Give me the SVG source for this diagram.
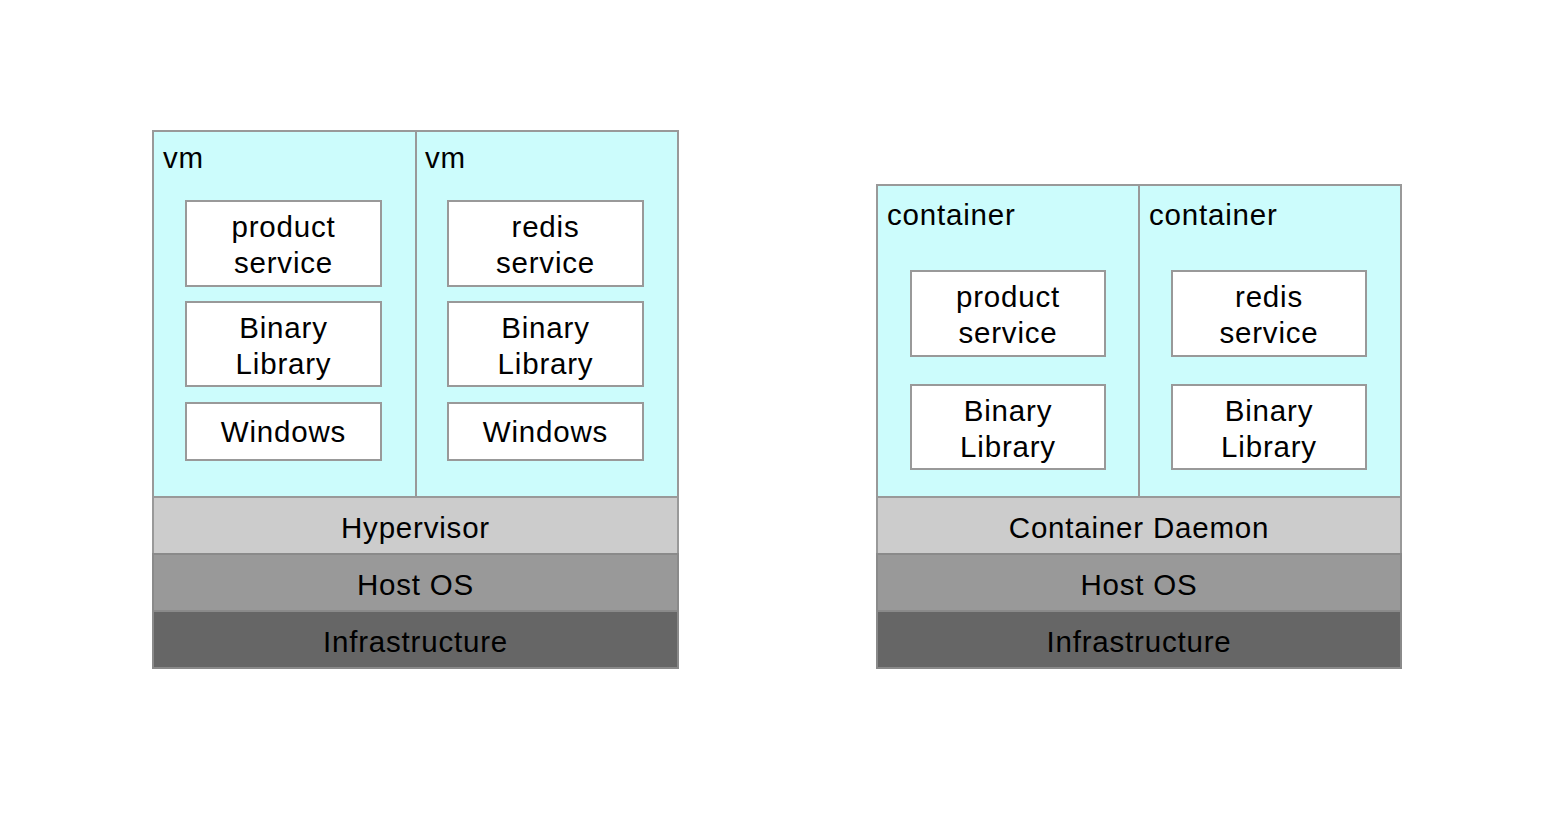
<svg xmlns="http://www.w3.org/2000/svg" width="1548" height="814" viewBox="0 0 1548 814">
<style>
.bg{fill:#ffffff}
.vm{fill:#ccfcfc;stroke:#999999;stroke-width:2}
.box{fill:#ffffff;stroke:#999999;stroke-width:2}
.l1{fill:#cccccc;stroke:#999999;stroke-width:2}
.l2{fill:#999999;stroke:#8a8a8a;stroke-width:2}
.l3{fill:#666666;stroke:#8a8a8a;stroke-width:2}
text{font-family:"Liberation Sans",Arial,Helvetica,sans-serif;font-size:29.5px;fill:#000000;letter-spacing:0.8px}
.c{text-anchor:middle}
</style>
<rect class="bg" x="0" y="0" width="1548" height="814"/>

<g id="vm-stack">
  <g id="vm1">
    <rect class="vm" x="153" y="131" width="263" height="366"/>
    <text x="163" y="168">vm</text>
  </g>
  <g id="vm2">
    <rect class="vm" x="416" y="131" width="262" height="366"/>
    <text x="425" y="168">vm</text>
  </g>
  <g id="vm1-product">
    <rect class="box" x="186" y="201" width="195" height="85"/>
    <text class="c" x="283.5" y="237">product</text>
    <text class="c" x="283.5" y="273">service</text>
  </g>
  <g id="vm1-binary">
    <rect class="box" x="186" y="302" width="195" height="84"/>
    <text class="c" x="283.5" y="338">Binary</text>
    <text class="c" x="283.5" y="374">Library</text>
  </g>
  <g id="vm1-windows">
    <rect class="box" x="186" y="403" width="195" height="57"/>
    <text class="c" x="283.5" y="442">Windows</text>
  </g>
  <g id="vm2-redis">
    <rect class="box" x="448" y="201" width="195" height="85"/>
    <text class="c" x="545.5" y="237">redis</text>
    <text class="c" x="545.5" y="273">service</text>
  </g>
  <g id="vm2-binary">
    <rect class="box" x="448" y="302" width="195" height="84"/>
    <text class="c" x="545.5" y="338">Binary</text>
    <text class="c" x="545.5" y="374">Library</text>
  </g>
  <g id="vm2-windows">
    <rect class="box" x="448" y="403" width="195" height="57"/>
    <text class="c" x="545.5" y="442">Windows</text>
  </g>
  <g id="hypervisor">
    <rect class="l1" x="153" y="497" width="525" height="57"/>
    <text class="c" x="415.5" y="538">Hypervisor</text>
  </g>
  <g id="vm-hostos">
    <rect class="l2" x="153" y="554" width="525" height="57"/>
    <text class="c" x="415.5" y="595">Host OS</text>
  </g>
  <g id="vm-infra">
    <rect class="l3" x="153" y="611" width="525" height="57"/>
    <text class="c" x="415.5" y="652">Infrastructure</text>
  </g>
</g>

<g id="container-stack">
  <g id="container1">
    <rect class="vm" x="877" y="185" width="262" height="312"/>
    <text x="887" y="225">container</text>
  </g>
  <g id="container2">
    <rect class="vm" x="1139" y="185" width="262" height="312"/>
    <text x="1149" y="225">container</text>
  </g>
  <g id="c1-product">
    <rect class="box" x="911" y="271" width="194" height="85"/>
    <text class="c" x="1008" y="307">product</text>
    <text class="c" x="1008" y="343">service</text>
  </g>
  <g id="c1-binary">
    <rect class="box" x="911" y="385" width="194" height="84"/>
    <text class="c" x="1008" y="421">Binary</text>
    <text class="c" x="1008" y="457">Library</text>
  </g>
  <g id="c2-redis">
    <rect class="box" x="1172" y="271" width="194" height="85"/>
    <text class="c" x="1269" y="307">redis</text>
    <text class="c" x="1269" y="343">service</text>
  </g>
  <g id="c2-binary">
    <rect class="box" x="1172" y="385" width="194" height="84"/>
    <text class="c" x="1269" y="421">Binary</text>
    <text class="c" x="1269" y="457">Library</text>
  </g>
  <g id="daemon">
    <rect class="l1" x="877" y="497" width="524" height="57"/>
    <text class="c" x="1139" y="538">Container Daemon</text>
  </g>
  <g id="c-hostos">
    <rect class="l2" x="877" y="554" width="524" height="57"/>
    <text class="c" x="1139" y="595">Host OS</text>
  </g>
  <g id="c-infra">
    <rect class="l3" x="877" y="611" width="524" height="57"/>
    <text class="c" x="1139" y="652">Infrastructure</text>
  </g>
</g>

<g id="connectors"></g>
</svg>
